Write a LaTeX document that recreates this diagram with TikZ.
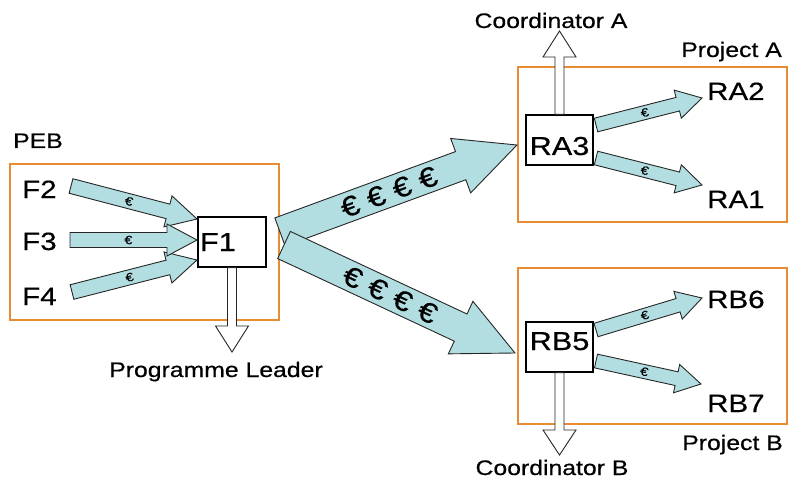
\documentclass[tikz,border=0pt]{standalone}
\usepackage{fontspec}
\setmainfont{Liberation Sans}[FakeStretch=1.18,FakeBold=0.5]
\usetikzlibrary{calc}

\definecolor{peborange}{RGB}{232,140,52}
\definecolor{flowblue}{RGB}{178,222,226}

% fat arrow: [style]{from}{to}{half shaft}{half head}{head length}{text}
\newcommand{\fatarrow}[7][]{%
  \path[#1] let \p1=($(#3)-(#2)$), \n1={atan2(\y1,\x1)}, \n2={veclen(\x1,\y1)},
      \n3={\n2-#6pt}, \n4={0.46*\n2} in
    [shift={(#2)}, rotate=\n1]
    (0pt,-#4pt) -- (\n3,-#4pt) -- (\n3,-#5pt) -- (\n2,0pt)
    -- (\n3,#5pt) -- (\n3,#4pt) -- (0pt,#4pt) -- cycle
    (\n4,0pt) node[euro,transform shape] {#7};
}

\begin{document}
\begin{tikzpicture}[x=1pt,y=-1pt,
  projbox/.style={draw=peborange, line width=2.5pt},
  title/.style={font=\fontsize{21}{21}\selectfont, inner sep=0pt},
  member/.style={font=\fontsize{25}{25}\selectfont, inner sep=0pt},
  actor/.style={draw, fill=white, line width=1.1pt, inner ysep=0pt, inner xsep=2pt,
    font=\fontsize{26}{26}\selectfont},
  flow/.style={draw=black!85, fill=flowblue, line width=0.9pt},
  report/.style={draw=black!85, fill=white, line width=0.9pt},
  euro/.style={font=\fontsize{12}{12}\selectfont, inner sep=0pt}]
\useasboundingbox (0,0) rectangle (789,481);

\draw[projbox] (10,164) rectangle (279,320);
\draw[projbox] (518,67) rectangle (787,222);
\draw[projbox] (518,268) rectangle (787,424);

\node[title, anchor=base west] (PEB) at (13,148) {PEB};
\node[title, anchor=base east] (PA) at (782,57) {Project A};
\node[title, anchor=base east] (PB) at (783,450) {Project B};
\node[title, anchor=base] (PL) at (216,377) {Programme Leader};
\node[title, anchor=base] (CA) at (551,28) {Coordinator A};
\node[title, anchor=base] (CB) at (552,475) {Coordinator B};

\node[member, anchor=base west] (F2) at (22,198) {F2};
\node[member, anchor=base west] (F3) at (22,250) {F3};
\node[member, anchor=base west] (F4) at (22,305) {F4};
\node[member, anchor=base west] (RA2) at (707,100) {RA2};
\node[member, anchor=base west] (RA1) at (707,208) {RA1};
\node[member, anchor=base west] (RB6) at (707,308) {RB6};
\node[member, anchor=base west] (RB7) at (707,412) {RB7};

\node[actor, text width=64pt, align=left, text height=34pt, text depth=16pt] (F1) at (232,242) {F1};
\node[actor, text width=63pt, align=center, text height=40pt, text depth=10pt] (RA3) at (559.5,140) {RA3};
\node[actor, text width=63pt, align=center, text height=28pt, text depth=22pt] (RB5) at (559.5,347) {RB5};

% money into F1
\coordinate (F2out) at (71,186);
\coordinate (F3out) at (70,240);
\coordinate (F4out) at (72,292);
\coordinate (F2in) at (197,219);
\coordinate (F3in) at (197,240);
\coordinate (F4in) at (197,260);
\fatarrow[flow]{F2out}{F2in}{7.5}{16}{30}{€}
\fatarrow[flow]{F4out}{F4in}{7.5}{16}{30}{€}
\fatarrow[flow]{F3out}{F3in}{7.5}{16}{30}{€}

% money to the projects
\coordinate (F1outA) at (280,232);
\coordinate (F1outB) at (284,245);
\coordinate (RA3in) at (517,145);
\coordinate (RB5in) at (515,353);
\fatarrow[flow]{F1outA}{RA3in}{15}{29}{60}{\fontsize{28}{28}\selectfont € € € €}
\fatarrow[flow]{F1outB}{RB5in}{15}{29}{60}{\fontsize{28}{28}\selectfont € € € €}

% money inside the projects
\coordinate (RA3outA) at (596,125);
\coordinate (RA3outB) at (596,158);
\coordinate (RB5outA) at (596,330);
\coordinate (RB5outB) at (596,361);
\coordinate (RA2in) at (702,98);
\coordinate (RA1in) at (702,185);
\coordinate (RB6in) at (702,298);
\coordinate (RB7in) at (701,384);
\fatarrow[flow]{RA3outA}{RA2in}{7}{14.5}{25}{€}
\fatarrow[flow]{RA3outB}{RA1in}{7}{14.5}{25}{€}
\fatarrow[flow]{RB5outA}{RB6in}{7}{14.5}{25}{€}
\fatarrow[flow]{RB5outB}{RB7in}{7}{14.5}{25}{€}

% reporting
\coordinate (PLin) at (232,352);
\coordinate (CAin) at (559.5,31);
\coordinate (CBin) at (559.5,455);
\fatarrow[report]{F1.south}{PLin}{4.5}{16.5}{26}{}
\fatarrow[report]{RA3.north}{CAin}{4.5}{16.5}{26}{}
\fatarrow[report]{RB5.south}{CBin}{4.5}{16.5}{25}{}

\end{tikzpicture}
\end{document}
